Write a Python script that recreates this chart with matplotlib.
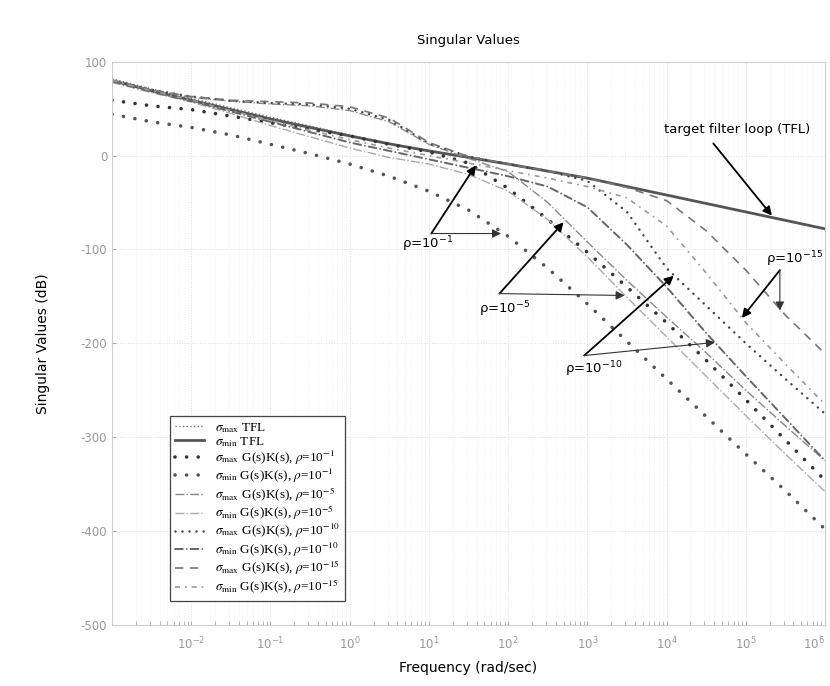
import numpy as np
import matplotlib
matplotlib.use("Agg")
import matplotlib.pyplot as plt
from matplotlib.ticker import FixedLocator, LogLocator, NullFormatter

# frequency grid, log10(rad/sec)
log_w = [-3, -2.5, -2, -1.5, -1, -0.5, 0, 0.5, 1, 1.5, 2, 2.5, 3, 3.5, 4, 4.5, 5, 5.5, 6]

# singular values in dB
tfl_max = [82, 71, 61, 51, 41, 31.5, 22, 13, 5.5, -1.5, -8.5, -16.5, -24, -33, -42, -51, -60, -69, -78]
tfl_min = [80, 69, 59, 49, 39, 30, 21, 12.5, 5, -2, -9, -16.5, -24, -33, -42, -51, -60, -69, -78]

r1_max = [59, 53, 49, 42, 35, 28, 21, 12, 4, -8, -35, -68, -103, -140, -178, -218, -260, -303, -346]
r1_min = [44, 36, 30, 22, 12, 2, -9, -22, -38, -58, -86, -120, -158, -198, -238, -278, -318, -357, -398]

r5_max = [80, 70, 62, 58, 55, 53, 48, 36, 12, -3, -17, -50, -92, -133, -172, -210, -250, -288, -325]
r5_min = [78, 67, 57, 45, 32, 20, 8, -2, -9, -20, -38, -68, -108, -151, -193, -235, -277, -318, -358]

r10_max = [80, 70, 63, 58.5, 56, 54.5, 50, 38, 13, -1, -9, -16.5, -27, -60, -120, -160, -200, -238, -275]
r10_min = [79, 68, 58, 47, 36, 25, 14, 5, -4, -13, -22, -33, -55, -95, -140, -189, -235, -280, -325]

r15_max = [80, 70, 63, 59, 57.5, 56, 52, 40, 14, -1, -9, -16.5, -24, -34, -48, -80, -122, -170, -211]
r15_min = [80, 69, 59, 48, 37.5, 27, 17, 8, 0, -8, -16, -24, -33, -45, -75, -125, -178, -222, -265]

x_tick_exp = [-2, -1, 0, 1, 2, 3, 4, 5, 6]
y_ticks = [100, 0, -100, -200, -300, -400, -500]

w = 10.0 ** np.array(log_w)

fig = plt.figure(figsize=(8.3, 6.86), dpi=100)
ax = fig.add_axes([0.135, 0.089, 0.859, 0.821])

dots = dict(linestyle=(0, (0.01, 3.2)), dash_capstyle="round", lw=2.6)

ax.plot(w, tfl_max, color="#777777", lw=1.0, linestyle=":", label=r"$\sigma_{\rm max}$ TFL")
ax.plot(w, tfl_min, color="#555555", lw=2.0, label=r"$\sigma_{\rm min}$ TFL")
ax.plot(w, r1_max, color="#333333", label=r"$\sigma_{\rm max}$ G(s)K(s), $\rho$=10$^{-1}$", **dots)
ax.plot(w, r1_min, color="#555555", label=r"$\sigma_{\rm min}$ G(s)K(s), $\rho$=10$^{-1}$", **dots)
ax.plot(w, r5_max, color="#888888", lw=1.0, linestyle="-.", label=r"$\sigma_{\rm max}$ G(s)K(s), $\rho$=10$^{-5}$")
ax.plot(w, r5_min, color="#aaaaaa", lw=1.0, linestyle="-.", label=r"$\sigma_{\rm min}$ G(s)K(s), $\rho$=10$^{-5}$")
ax.plot(w, r10_max, color="#444444", lw=1.8, linestyle=(0, (0.01, 2.8)), dash_capstyle="round",
        label=r"$\sigma_{\rm max}$ G(s)K(s), $\rho$=10$^{-10}$")
ax.plot(w, r10_min, color="#666666", lw=1.4, linestyle=(0, (4, 2, 0.01, 2)), dash_capstyle="round",
        label=r"$\sigma_{\rm min}$ G(s)K(s), $\rho$=10$^{-10}$")
ax.plot(w, r15_max, color="#777777", lw=1.2, linestyle=(0, (5, 4)),
        label=r"$\sigma_{\rm max}$ G(s)K(s), $\rho$=10$^{-15}$")
ax.plot(w, r15_min, color="#999999", lw=1.2, linestyle=(0, (3, 3, 1, 3)),
        label=r"$\sigma_{\rm min}$ G(s)K(s), $\rho$=10$^{-15}$")

ax.set_xscale("log")
ax.set_xlim(10.0 ** log_w[0], 10.0 ** log_w[-1])
ax.set_ylim(-500, 100)

ax.xaxis.set_major_locator(FixedLocator([10.0 ** e for e in x_tick_exp]))
ax.set_xticklabels([r"$10^{%d}$" % e for e in x_tick_exp])
ax.get_xticklabels()[-1].set_horizontalalignment("right")
ax.xaxis.set_minor_locator(LogLocator(base=10, subs=np.arange(2, 10), numticks=20))
ax.xaxis.set_minor_formatter(NullFormatter())
ax.set_yticks(y_ticks)
ax.set_yticklabels([str(v) for v in y_ticks])

ax.tick_params(axis="both", which="both", direction="in", colors="#aaaaaa",
               labelcolor="#999999", labelsize=8.5, length=3)
ax.tick_params(axis="x", pad=8)
ax.grid(True, which="major", linestyle=":", color="#dddddd", lw=0.7)
ax.grid(True, which="minor", axis="x", linestyle=":", color="#eeeeee", lw=0.5)
for s in ax.spines.values():
    s.set_color("#cccccc")
    s.set_linewidth(0.7)

ax.set_title("Singular Values", fontsize=9.5, pad=13)
ax.set_xlabel("Frequency (rad/sec)", fontsize=10, labelpad=6)
ax.set_ylabel("Singular Values (dB)", fontsize=10, labelpad=22)

leg = ax.legend(loc="lower left", bbox_to_anchor=(0.072, 0.03), prop={"family": "Liberation Serif", "size": 9.5},
                labelspacing=0.0, handlelength=2.2, borderpad=0.4, fancybox=False,
                edgecolor="#444444", framealpha=1)
leg.get_frame().set_linewidth(0.9)
for t in leg.get_texts():
    t.set_math_fontfamily("stix")

# annotations (data coords: frequency, dB)
big = dict(arrowstyle="-|>", color="black", lw=1.3, mutation_scale=13, shrinkA=0, shrinkB=0)
thin = dict(arrowstyle="-|>", color="#333333", lw=0.8, mutation_scale=13, shrinkA=0, shrinkB=0)

def rho_note(base, tip1, tip2, txt, txt_xy):
    ax.annotate("", xy=(10 ** tip1[0], tip1[1]), xytext=(10 ** base[0], base[1]), arrowprops=big)
    ax.annotate("", xy=(10 ** tip2[0], tip2[1]), xytext=(10 ** base[0], base[1]), arrowprops=thin)
    ax.text(10 ** txt_xy[0], txt_xy[1], txt, ha="center", va="center", fontsize=9.5,
            math_fontfamily="dejavusans")

rho_note((1.03, -83), (1.59, -10.5), (1.91, -83), "ρ=10$^{-1}$", (0.98, -94))
rho_note((1.89, -147), (2.70, -71), (3.47, -149), "ρ=10$^{-5}$", (1.96, -164))
rho_note((2.96, -213), (4.09, -128), (4.61, -199), "ρ=10$^{-10}$", (3.08, -228))
rho_note((5.43, -122), (4.95, -173), (5.43, -165), "ρ=10$^{-15}$", (5.62, -110))

ax.annotate("", xy=(10 ** 5.33, -64), xytext=(10 ** 4.59, 13), arrowprops=big)
ax.text(10 ** 4.89, 28, "target filter loop (TFL)", ha="center", va="center", fontsize=9.5)

fig.savefig("out.png", dpi=100)
